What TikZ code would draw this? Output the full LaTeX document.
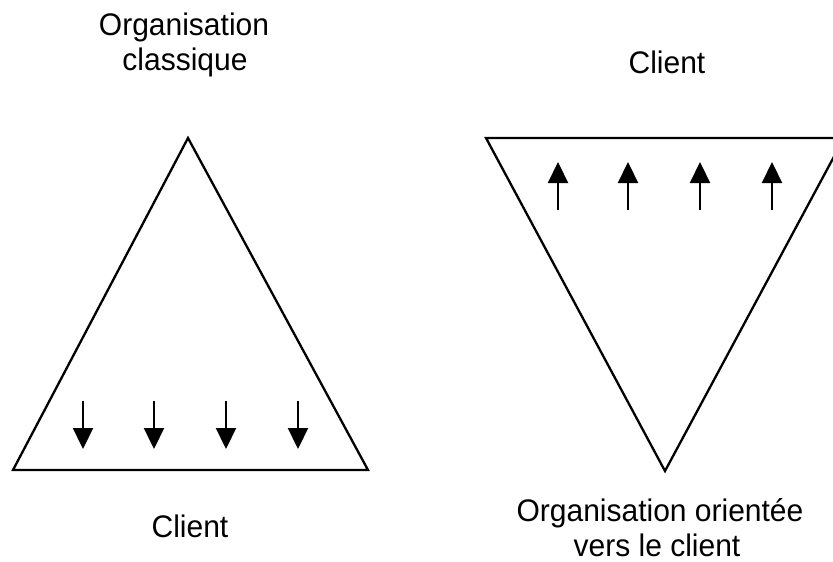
\documentclass[tikz,border=0pt]{standalone}
\usepackage{fontspec}
\setmainfont{Liberation Sans}
\usetikzlibrary{arrows.meta}
\tikzset{
  tri/.style={draw=black, line width=2.3pt, line join=miter},
  flow/.style={draw=black, line width=2.2pt, -{Triangle[width=20pt,length=21pt]}},
  lbl/.style={font=\fontsize{30}{35}\selectfont, anchor=base, inner sep=0pt, align=center, yscale=1.04}
}
\begin{document}
\begin{tikzpicture}[x=1pt,y=-1pt]
\useasboundingbox (0,0) rectangle (833,562);
\clip (0,0) rectangle (833,562);
% left triangle
\coordinate (LA) at (188,138);
\coordinate (LB) at (13,470);
\coordinate (LC) at (368,470);
\draw[tri] (LA) -- (LB) -- (LC) -- cycle;
% right triangle
\coordinate (RA) at (486,138);
\coordinate (RB) at (844,138);
\coordinate (RC) at (665,471);
\draw[tri] (RA) -- (RB) -- (RC) -- cycle;
% left arrows
\foreach \x [count=\i] in {83,154,226,298}{
  \coordinate (ls\i) at (\x,401);
  \coordinate (le\i) at (\x,449);
  \draw[flow] (ls\i) -- (le\i);
}
% right arrows
\foreach \x [count=\i] in {558,628,700,772}{
  \coordinate (rs\i) at (\x,210);
  \coordinate (re\i) at (\x,162);
  \draw[flow] (rs\i) -- (re\i);
}
% labels
\node[lbl] (t1) at (184,35) {Organisation};
\node[lbl] (t2) at (185,70) {classique};
\node[lbl] (t3) at (667,73) {Client};
\node[lbl] (t4) at (190,537) {Client};
\node[lbl] (t5) at (660,521) {Organisation orientée};
\node[lbl] (t6) at (657,556) {vers le client};
\end{tikzpicture}
\end{document}
